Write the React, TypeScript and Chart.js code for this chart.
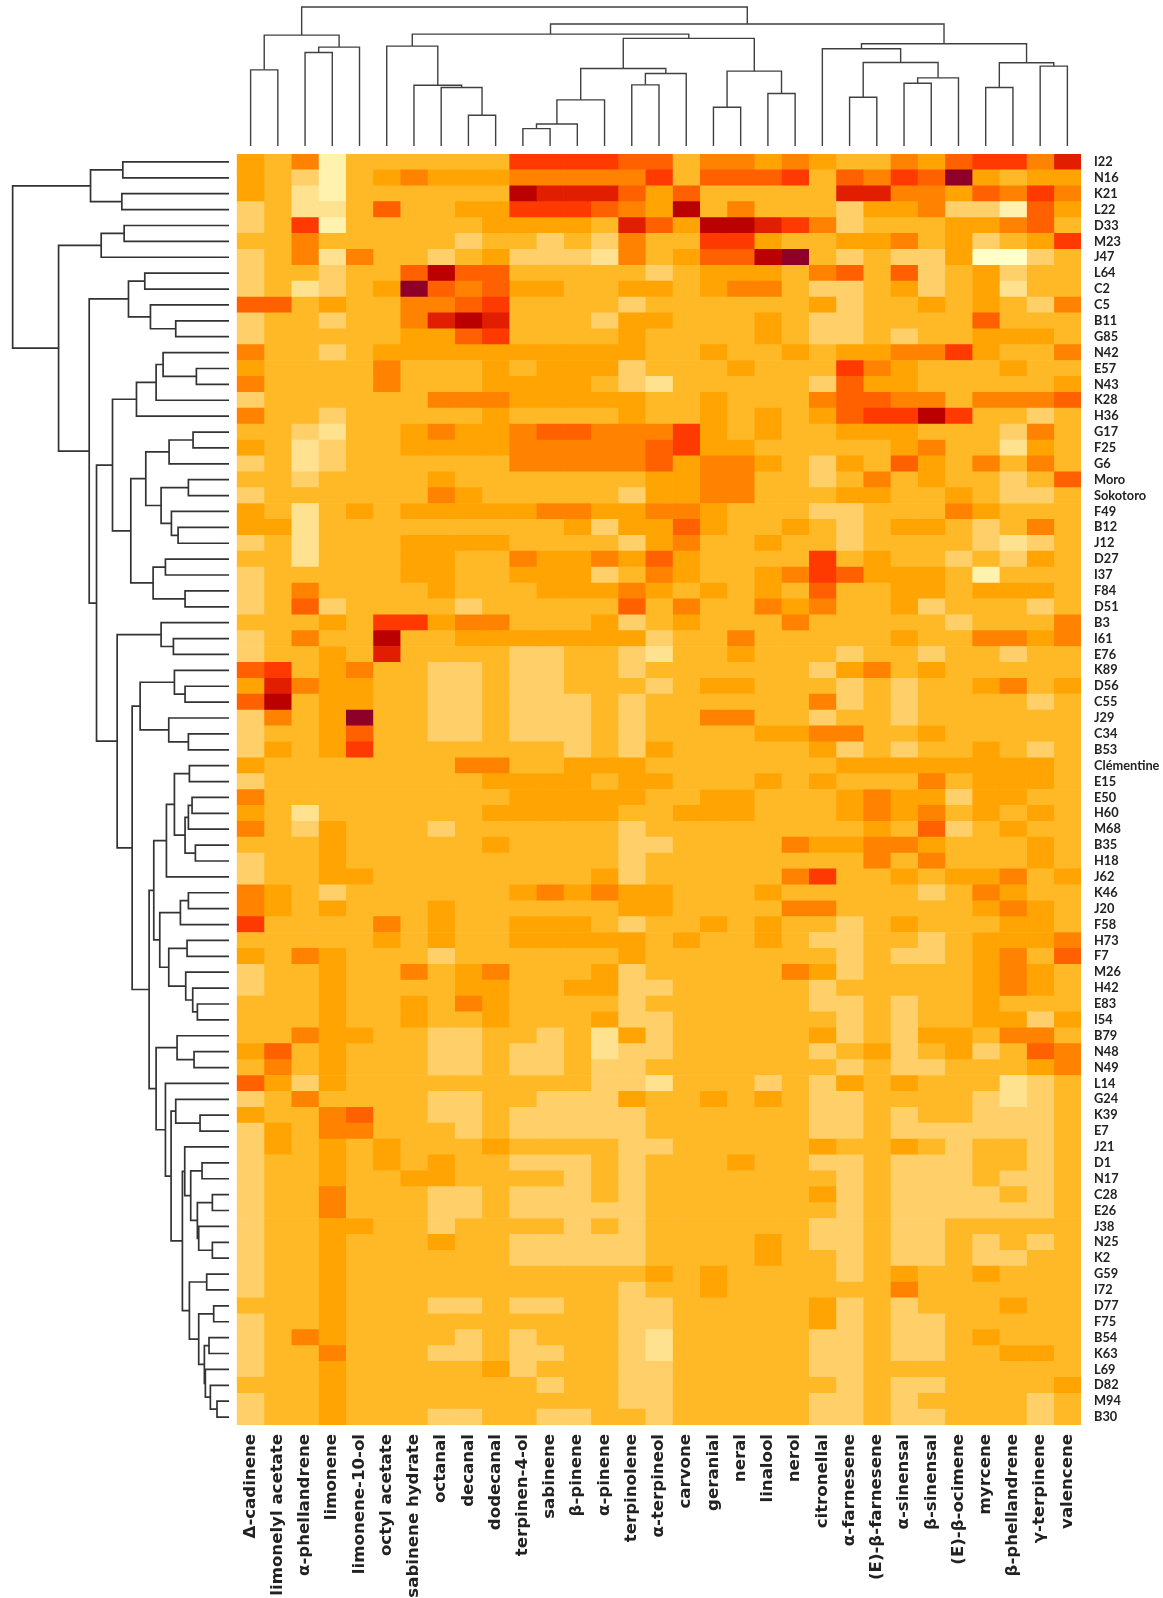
import { useEffect, useRef } from "react";
import Chart from "chart.js/auto";

const compounds = ["Δ-cadinene","limonelyl acetate","α-phellandrene","limonene","limonene-10-ol","octyl acetate","sabinene hydrate","octanal","decanal","dodecanal","terpinen-4-ol","sabinene","β-pinene","α-pinene","terpinolene","α-terpineol","carvone","geranial","neral","linalool","nerol","citronellal","α-farnesene","(E)-β-farnesene","α-sinensal","β-sinensal","(E)-β-ocimene","myrcene","β-phellandrene","γ-terpinene","valencene"];

const samples = ["I22","N16","K21","L22","D33","M23","J47","L64","C2","C5","B11","G85","N42","E57","N43","K28","H36","G17","F25","G6","Moro","Sokotoro","F49","B12","J12","D27","I37","F84","D51","B3","I61","E76","K89","D56","C55","J29","C34","B53","Clémentine","E15","E50","H60","M68","B35","H18","J62","K46","J20","F58","H73","F7","M26","H42","E83","I54","B79","N48","N49","L14","G24","K39","E7","J21","D1","N17","C28","E26","J38","N25","K2","G59","I72","D77","F75","B54","K63","L69","D82","M94","B30"];

const palette = ["#FFFFC8","#FFF1AE","#FFE28F","#FFCF69","#FFB927","#FFA402","#FF8300","#FF6100","#FF3A00","#E11F00","#BB0000","#8E0028"];

const levels: number[][] = [
[5,4,6,1,4,4,4,4,4,4,8,8,8,8,7,7,4,6,6,5,6,5,4,4,6,5,7,8,8,6,9],
[5,4,3,1,4,5,6,5,5,5,6,6,6,6,6,8,4,7,7,7,8,4,7,6,8,7,11,5,4,5,5],
[5,4,2,1,4,4,4,4,4,4,10,9,9,9,7,5,7,4,4,4,4,4,9,9,6,6,5,7,6,8,6],
[3,4,2,2,4,7,4,4,5,5,8,8,8,7,6,5,10,4,6,4,4,4,3,5,5,6,3,3,1,7,5],
[3,4,8,1,4,4,4,4,4,5,5,5,5,4,9,7,5,10,10,9,8,6,3,4,4,4,5,5,6,7,4],
[4,4,6,4,4,4,4,4,3,4,4,3,4,3,6,4,4,8,8,5,4,4,5,5,6,4,5,3,4,5,8],
[3,4,6,2,6,4,4,3,4,5,3,3,3,2,6,4,5,7,7,10,11,4,3,4,3,3,5,0,0,3,4],
[3,4,4,3,4,4,7,10,7,7,4,4,4,4,4,3,4,5,5,5,4,6,7,4,7,3,4,5,3,4,4],
[3,4,2,3,4,5,11,7,6,7,5,5,4,4,5,5,4,5,6,6,4,3,3,4,5,3,4,5,2,4,4],
[7,7,4,5,4,4,6,6,7,8,4,4,4,4,3,4,4,4,4,4,4,5,3,4,4,5,4,5,4,3,6],
[3,4,4,3,4,4,6,9,10,9,4,4,4,3,5,5,4,4,4,5,4,3,3,4,4,4,4,7,4,4,4],
[3,4,4,4,4,4,5,5,7,8,4,4,4,4,5,4,4,4,4,5,4,3,3,4,3,4,4,5,5,5,4],
[6,4,4,3,4,5,5,5,5,5,5,5,5,5,5,4,4,5,4,4,5,4,5,5,6,6,8,5,4,4,6],
[5,4,4,4,4,6,4,4,4,5,4,5,5,5,3,4,4,4,5,4,4,4,8,6,5,4,4,4,5,4,4],
[6,4,4,4,4,6,4,4,4,5,5,5,5,4,3,2,4,4,4,4,4,3,7,5,5,4,4,4,4,4,5],
[3,4,4,4,4,4,4,6,6,6,5,5,5,5,5,4,4,5,4,4,4,6,7,7,6,6,4,6,6,6,7],
[6,4,4,3,4,4,4,4,4,5,4,4,4,4,5,4,4,5,4,5,4,5,7,8,8,10,8,4,4,3,4],
[4,4,3,2,4,4,5,6,5,5,6,7,7,6,6,6,8,5,4,5,4,4,5,5,5,4,4,4,3,6,4],
[5,4,2,3,4,4,5,5,5,5,6,6,6,6,6,7,8,5,5,4,4,4,4,4,5,6,4,4,2,5,4],
[3,4,2,3,4,4,4,4,4,4,6,6,6,6,6,7,5,6,6,5,4,3,5,4,7,5,4,6,4,6,4],
[4,4,3,4,4,4,4,5,4,4,4,4,4,4,4,5,5,6,6,4,4,3,4,6,4,5,4,4,3,4,7],
[3,4,4,4,4,4,4,6,5,4,4,4,4,4,3,5,5,6,6,4,4,4,5,5,4,4,5,4,3,3,4],
[5,4,2,4,5,4,5,5,5,5,5,6,6,5,5,6,6,5,4,4,4,3,3,4,4,4,6,5,4,4,4],
[5,5,2,4,4,4,4,4,4,4,4,4,5,3,5,5,7,5,4,4,5,4,3,4,5,5,4,3,4,6,4],
[3,4,2,4,4,4,5,5,5,5,4,4,4,4,3,5,6,4,4,5,4,4,3,4,4,4,4,3,2,3,4],
[4,4,2,4,4,4,5,5,4,4,6,5,5,6,5,7,5,4,4,4,4,8,4,5,4,4,3,4,3,5,4],
[3,4,4,4,4,4,5,5,4,4,5,5,5,3,4,6,5,4,4,5,6,8,7,5,5,5,4,1,4,4,4],
[3,4,6,4,4,4,4,5,4,4,4,5,5,5,6,5,4,5,4,5,4,7,4,4,5,5,4,5,5,5,4],
[3,4,7,3,4,4,4,4,3,4,4,4,4,4,7,4,6,4,4,6,5,6,4,4,5,3,4,4,4,3,4],
[4,4,4,5,4,8,8,5,6,6,4,4,4,5,3,4,5,4,4,4,6,4,4,4,4,4,3,4,4,4,6],
[3,4,6,4,4,10,4,4,5,5,5,5,5,5,5,3,4,4,6,4,4,4,4,4,5,4,4,6,6,5,6],
[3,4,4,5,4,9,4,4,4,4,3,3,4,4,3,2,4,4,5,4,4,4,3,4,4,3,4,4,3,4,4],
[7,8,4,5,6,4,4,3,3,4,3,3,4,4,3,4,4,4,4,4,4,3,5,6,4,5,4,4,4,4,4],
[5,9,6,5,5,4,4,3,3,4,3,3,4,4,4,3,4,5,5,4,4,4,3,4,3,4,4,5,6,4,5],
[7,10,4,5,5,4,4,3,3,4,3,3,3,4,3,4,4,4,4,4,4,6,3,4,3,4,4,4,4,3,4],
[3,6,4,5,11,4,4,3,3,4,3,3,3,4,3,4,4,6,6,4,4,3,4,4,3,4,4,4,4,4,4],
[3,4,4,5,7,4,4,3,3,4,3,3,3,4,3,4,4,4,4,5,5,6,6,4,4,5,4,4,4,4,4],
[3,5,4,5,8,4,4,4,4,4,4,4,3,4,3,5,4,4,4,4,4,5,3,4,3,4,4,5,4,3,4],
[5,4,4,4,4,4,4,4,6,6,4,4,5,5,5,4,4,4,4,4,4,4,5,5,5,5,5,5,5,5,4],
[3,4,4,4,4,4,4,4,4,5,5,5,5,4,5,5,4,4,4,5,4,5,4,4,4,6,4,5,5,5,4],
[6,4,4,4,4,4,4,4,4,4,5,5,5,5,5,4,4,5,5,4,4,4,5,6,5,5,3,5,5,4,4],
[5,4,2,4,4,4,4,4,4,5,5,5,5,5,4,4,5,5,5,4,4,4,5,6,5,6,4,5,4,5,4],
[6,4,3,5,4,4,4,3,4,4,4,4,4,4,3,4,4,4,4,4,4,4,4,5,4,7,3,4,5,4,4],
[4,4,4,5,4,4,4,4,4,5,4,4,4,4,3,3,4,4,4,4,6,5,5,6,6,5,4,4,4,5,4],
[3,4,4,5,4,4,4,4,4,4,4,4,4,4,3,4,4,4,4,4,4,4,4,6,4,6,4,4,4,5,4],
[3,4,4,5,5,4,4,4,4,4,4,4,4,5,3,4,4,4,4,4,6,8,4,4,5,4,5,5,6,4,5],
[6,5,4,3,4,4,4,4,4,4,5,6,5,6,5,5,4,4,4,5,4,4,4,4,4,3,4,6,5,4,4],
[6,5,4,5,4,4,4,5,4,4,4,4,4,4,5,5,4,4,4,4,6,6,4,4,4,4,4,5,6,5,4],
[8,4,4,4,4,6,4,5,4,4,5,5,5,4,3,4,4,5,4,5,4,4,3,4,5,4,4,4,5,5,4],
[4,4,4,4,4,5,4,5,4,4,5,5,5,5,5,4,5,4,4,5,4,3,3,4,4,3,4,5,5,5,6],
[5,4,6,5,4,4,4,3,4,4,4,4,4,4,5,4,4,4,4,4,4,4,3,4,3,3,4,5,6,4,7],
[3,4,4,5,4,4,6,4,5,6,4,4,4,5,3,4,4,4,4,4,6,5,3,4,4,4,4,5,6,5,4],
[3,4,4,5,4,4,4,4,5,5,4,4,5,5,3,3,4,4,4,4,4,3,4,4,4,4,4,5,6,5,4],
[4,4,4,5,4,4,5,4,6,5,4,4,4,4,3,4,4,4,4,4,4,3,3,4,3,4,4,5,4,4,4],
[4,4,4,5,4,4,5,4,4,5,4,4,4,5,3,3,4,4,4,4,4,4,3,4,3,4,4,5,5,3,5],
[4,4,6,5,5,4,4,3,3,4,4,3,4,2,5,3,4,4,4,4,4,5,3,4,3,5,5,4,6,6,4],
[5,7,4,5,4,4,4,3,3,4,3,3,4,2,3,3,4,4,4,4,4,3,4,5,3,4,5,3,4,7,6],
[4,6,4,5,4,4,4,3,3,4,3,3,4,3,3,4,4,4,4,4,4,4,3,4,3,3,4,4,4,5,6],
[7,5,3,5,4,4,4,4,4,4,4,4,4,3,3,2,4,4,4,3,4,3,5,4,5,4,4,4,2,3,4],
[3,4,6,4,4,4,4,3,3,4,4,3,3,3,5,4,4,5,4,5,4,3,3,4,4,4,4,3,2,3,4],
[5,4,4,6,7,4,4,3,3,4,3,3,3,3,3,4,4,4,4,4,4,3,3,4,3,4,4,3,3,3,4],
[3,5,4,6,6,4,4,4,3,4,3,3,3,3,3,4,4,4,4,4,4,3,3,4,3,3,3,3,3,3,4],
[3,5,4,5,4,5,4,4,4,5,4,4,4,4,3,3,4,4,4,4,4,5,4,4,5,4,3,4,4,3,4],
[3,4,4,5,4,5,4,5,4,4,3,3,3,4,3,4,4,4,5,4,4,3,3,4,3,3,3,4,4,3,4],
[3,4,4,5,4,4,5,5,4,4,4,4,3,4,3,4,4,4,4,4,4,4,3,4,3,3,3,4,3,3,4],
[3,4,4,6,4,4,4,3,3,4,3,3,3,4,3,4,4,4,4,4,4,5,3,4,3,3,3,3,4,3,4],
[3,4,4,6,4,4,4,3,3,4,3,3,3,3,3,4,4,4,4,4,4,4,3,4,3,3,3,3,3,3,4],
[3,4,4,5,5,4,4,3,4,4,4,4,3,4,3,4,4,4,4,4,4,3,3,4,3,3,4,4,4,4,4],
[3,4,4,5,4,4,4,5,4,4,3,3,3,3,3,4,4,4,4,5,4,3,3,4,3,3,4,3,4,3,4],
[3,4,4,5,4,4,4,4,4,4,3,3,3,3,3,4,4,4,4,5,4,4,3,4,3,3,4,3,3,4,4],
[3,4,4,5,4,4,4,4,4,4,4,4,4,4,4,5,4,5,4,4,4,4,3,4,5,4,4,5,4,4,4],
[3,4,4,5,4,4,4,4,4,4,4,4,4,4,3,4,4,5,4,4,4,4,4,4,6,4,4,4,4,4,4],
[4,4,4,5,4,4,4,3,3,4,3,3,4,4,3,3,4,4,4,4,4,5,3,4,3,4,4,4,5,4,4],
[3,4,4,5,4,4,4,4,4,4,4,4,4,4,3,3,4,4,4,4,4,5,3,4,3,3,4,4,4,4,4],
[3,4,6,5,4,4,4,4,3,4,3,4,4,4,3,2,4,4,4,4,4,3,3,4,3,3,4,5,4,4,4],
[3,4,4,6,4,4,4,3,3,4,3,3,4,4,3,2,4,4,4,4,4,3,3,4,3,3,4,4,5,5,4],
[3,4,4,5,4,4,4,4,4,5,3,4,4,4,3,3,4,4,4,4,4,3,3,4,4,4,4,4,4,4,4],
[4,4,4,5,4,4,4,4,4,4,4,3,4,4,3,3,4,4,4,4,4,4,3,4,3,3,4,4,4,4,5],
[3,4,4,5,4,4,4,4,4,4,4,4,4,4,3,3,4,4,4,4,4,3,3,4,3,4,4,4,4,3,4],
[3,4,4,5,4,4,4,3,3,4,4,3,3,4,4,3,4,4,4,4,4,3,3,4,3,3,4,4,4,3,4],
];

// Dendrograms: a node is [merge height, child, child]; a bare number is a leaf index.
type Node = number | [number, Node, Node];

const compoundLeft: Node = [332, [228, 0, 1], [296, [280, 2, 3], 4]];
const compoundMidA: Node = [299, 5, [182, 6, [175, 7, [92, 8, 9]]]];
const compoundMidB: Node = [322,
  [232, [138, [66, [52, 10, 11], 12], 13], [217, [183, 14, 15], 16]],
  [224, [116, 17, 18], [157, 19, 20]]];
const compoundRight: Node = [306,
  [291, 21, [250, [146, 22, 23], [204, [188, 24, 25], 26]]],
  [249, [175, 27, 28], [239, 29, 30]]];
const compoundTree: Node = [416, compoundLeft, [365, [335, compoundMidA, compoundMidB], compoundRight]];

const s0to3: Node = [416, [319, 0, 1], [322, 2, 3]];
const s4to6: Node = [384, [315, 4, 5], 6];
const s7to11: Node = [302, [253, 7, 8], [236, 9, [160, 10, 11]]];
const s12to16: Node = [278, [219, [198, 12, [98, 13, 14]], 15], 16];
const s17to24: Node = [250, [180, [108, 17, 18], 19], [204, [122, 20, 21], [173, 22, [153, 23, 24]]]];
const s25to28: Node = [228, [191, 25, 26], [132, 27, 28]];
const s29to31: Node = [204, 29, [167, 30, 31]];
const s32to37: Node = [267, [164, 32, [132, 33, 34]], [181, 35, [122, 36, 37]]];
const s38to45: Node = [188, [164, [119, 38, 39], [132, [122, [111, 40, 41], 42], [101, 43, 44]]], 45];
const s46to54: Node = [208, [146, [122, 46, 47], 48], [181, [126, 49, 50], [130, 51, [109, 52, [95, 53, 54]]]]];
const s55to57: Node = [156, 55, [105, 56, 57]];
const s59to61: Node = [160, 59, [87, 60, 61]];
const s62to69: Node = [133, 62, [115, [81, 63, 64], [95, [50, 65, 66], [91, 67, [50, 68, 69]]]]];
const s70to79: Node = [119, [67, 70, 71], [91, [46, 72, 73], [74, [60, 74, 75], [71, 76, [56, 77, [36, 78, 79]]]]]];
const s58to79: Node = [191, 58, [174, s59to61, [140, s62to69, s70to79]]];
const s38to79: Node = [240, [226, s38to45, s46to54], [219, s55to57, s58to79]];
const s12to28: Node = [350, s12to16, [295, s17to24, s25to28]];
const s29to79: Node = [336, s29to31, [291, s32to37, s38to79]];
const sampleTree: Node = [650, s0to3, [512, s4to6, [420, s7to11, [398, s12to28, s29to79]]]];

type Seg = { x: number; y: number }[];

function treeSegments(tree: Node, vertical: boolean): Seg[] {
  const segs: Seg[] = [];
  const pt = (pos: number, h: number) => (vertical ? { x: pos, y: h } : { x: h, y: pos });
  const walk = (n: Node): [number, number] => {
    if (typeof n === "number") return [n, 0];
    const [h, a, b] = n;
    const [pa, ha] = walk(a);
    const [pb, hb] = walk(b);
    segs.push([pt(pa, ha), pt(pa, h), pt(pb, h), pt(pb, hb)]);
    return [(pa + pb) / 2, h];
  };
  walk(tree);
  return segs;
}

function lineDatasets(segs: Seg[], color: string, width: number) {
  return segs.map((data) => ({
    data,
    showLine: true,
    tension: 0,
    borderColor: color,
    borderWidth: width,
    pointRadius: 0,
    fill: false,
  }));
}

const hiddenAxis = { display: false, grid: { display: false } };
const baseOptions = {
  animation: false as const,
  responsive: false,
  maintainAspectRatio: false,
  devicePixelRatio: 1,
  layout: { padding: 0 },
  plugins: { legend: { display: false }, tooltip: { enabled: false }, title: { display: false } },
};

const GRID_L = 236.7;
const GRID_R = 1081;
const GRID_T = 154;
const GRID_B = 1425;

export default function App() {
  const heatRef = useRef<HTMLCanvasElement>(null);
  const topRef = useRef<HTMLCanvasElement>(null);
  const leftRef = useRef<HTMLCanvasElement>(null);

  useEffect(() => {
    const heat = new Chart(heatRef.current!, {
      type: "bar",
      data: {
        labels: samples,
        datasets: compounds.map((name, c) => ({
          label: name,
          data: samples.map(() => [c - 0.5, c + 0.5]),
          backgroundColor: samples.map((_, r) => palette[levels[r][c]]),
          barPercentage: 1,
          categoryPercentage: 1,
          grouped: false,
          borderWidth: 0,
        })),
      } as any,
      options: {
        ...baseOptions,
        indexAxis: "y",
        layout: { padding: { left: GRID_L, top: GRID_T, right: 0, bottom: 0 } },
        scales: {
          x: {
            type: "linear",
            position: "bottom",
            min: -0.5,
            max: 30.5,
            grid: { display: false, drawTicks: false },
            border: { display: false },
            afterBuildTicks: (s: any) => {
              s.ticks = compounds.map((_, i) => ({ value: i }));
            },
            afterFit: (s: any) => {
              s.height = 1598 - GRID_B;
            },
            ticks: {
              autoSkip: false,
              minRotation: 90,
              maxRotation: 90,
              padding: 9,
              color: "#222222",
              font: { family: "'DejaVu Sans'", size: 16.6, weight: "bold" },
              callback: (v: any) => compounds[v],
            },
          },
          y: {
            type: "category",
            position: "right",
            grid: { display: false, drawTicks: false },
            border: { display: false },
            afterFit: (s: any) => {
              s.width = 1163 - GRID_R;
            },
            ticks: {
              autoSkip: false,
              padding: 13,
              color: "#222222",
              font: { family: "Lato", size: 12.8, weight: "bold" },
            },
          },
        },
      } as any,
    });

    const top = new Chart(topRef.current!, {
      type: "scatter",
      data: { datasets: lineDatasets(treeSegments(compoundTree, true), "#404040", 1.4) },
      options: {
        ...baseOptions,
        scales: {
          x: { ...hiddenAxis, type: "linear", min: -0.5, max: 30.5 },
          y: { ...hiddenAxis, type: "linear", min: 0, max: 437 },
        },
      } as any,
    });

    const left = new Chart(leftRef.current!, {
      type: "scatter",
      data: { datasets: lineDatasets(treeSegments(sampleTree, false), "#333333", 1.7) },
      options: {
        ...baseOptions,
        scales: {
          x: { ...hiddenAxis, type: "linear", min: 0, max: 688, reverse: true },
          y: { ...hiddenAxis, type: "linear", min: -0.5, max: 79.5, reverse: true },
        },
      } as any,
    });

    return () => {
      heat.destroy();
      top.destroy();
      left.destroy();
    };
  }, []);

  const abs = (left: number, top: number, width: number, height: number): any => ({
    position: "absolute",
    left,
    top,
    width,
    height,
    display: "block",
  });

  return (
    <div style={{ position: "absolute", left: 0, top: 0, width: 1163, height: 1598, overflow: "hidden", background: "#fff" }}>
      <canvas ref={heatRef} width={1163} height={1598} style={abs(0, 0, 1163, 1598)} />
      <canvas ref={topRef} width={844} height={146} style={abs(GRID_L, 0, 844.3, 146)} />
      <canvas ref={leftRef} width={229} height={1271} style={abs(0, GRID_T, 229.3, 1271)} />
    </div>
  );
}
